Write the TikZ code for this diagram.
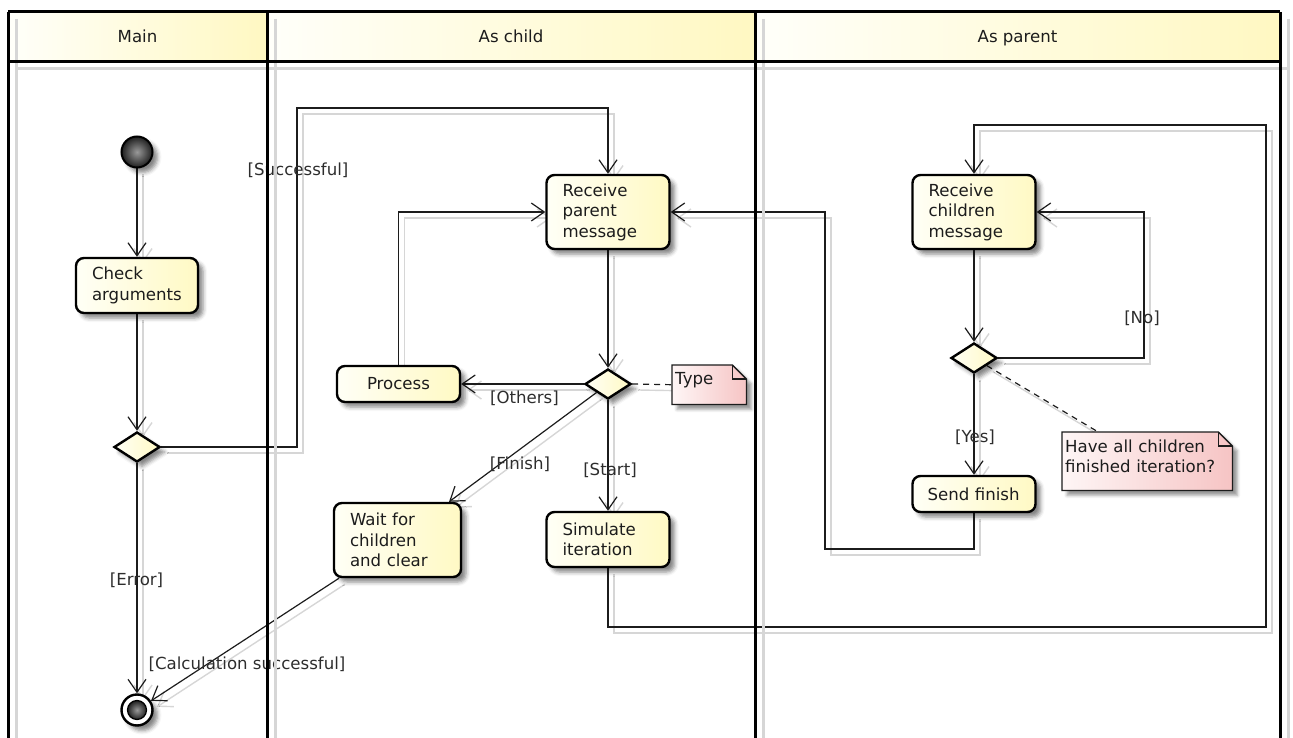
\documentclass[tikz,border=0pt]{standalone}
\usepackage{fontspec}
\setmainfont{DejaVu Sans}
\usetikzlibrary{shapes.geometric, arrows.meta, shadows, shadows.blur, calc}

\pgfdeclarelayer{edges}
\pgfdeclarelayer{lanefg}
\pgfsetlayers{edges,main,lanefg}

\definecolor{actL}{RGB}{255,255,246}
\definecolor{actR}{RGB}{255,249,196}
\definecolor{hdrL}{RGB}{255,255,250}
\definecolor{hdrR}{RGB}{255,248,194}
\definecolor{noteL}{RGB}{254,246,246}
\definecolor{noteR}{RGB}{246,196,196}
\definecolor{shadegray}{RGB}{214,214,214}
\definecolor{ink}{RGB}{28,28,28}
\definecolor{lblink}{RGB}{45,45,45}

\tikzset{
  every node/.style={font=\fontsize{16.6pt}{20.5pt}\selectfont, text=ink},
  nodeshadow/.style={blur shadow={shadow xshift=5pt, shadow yshift=-5pt,
      shadow blur radius=4pt, shadow opacity=48}},
  act/.style={rectangle, rounded corners=8pt, draw=black, line width=2.4pt,
      left color=actL, right color=actR, inner xsep=16pt, inner ysep=0pt,
      align=left, nodeshadow},
  dec/.style={diamond, draw=black, line width=2.4pt, left color=actL,
      right color=actR, minimum width=46pt, minimum height=30pt,
      inner sep=0pt, nodeshadow},
  startnode/.style={circle, draw=black, line width=2pt, minimum size=31pt,
      inner sep=0pt, shading=radial, inner color=black!40,
      outer color=black!88, nodeshadow},
  endnode/.style={circle, draw=black, line width=2.4pt, minimum size=31pt,
      inner sep=0pt, fill=white, nodeshadow},
  endcore/.style={circle, draw=black, line width=1.2pt, minimum size=19pt,
      inner sep=0pt, shading=radial, inner color=black!40,
      outer color=black!88},
  notetxt/.style={rectangle, anchor=north west, inner xsep=3pt,
      inner ysep=4pt, align=left},
  lbl/.style={inner sep=0pt, text=lblink},
  hdr/.style={inner sep=0pt, anchor=base, text=ink},
  conn/.style={draw=ink, line width=1.2pt,
      preaction={draw=shadegray, line width=1.4pt, solid,
        transform canvas={shift={(6pt,-6pt)}}}},
  arr/.style={conn, -{Straight Barb[length=13pt, width=18pt]}},
  dashline/.style={conn, dash pattern=on 6pt off 5pt},
  lane/.style={draw=black, line width=3pt},
  laneshadow/.style={draw=shadegray, line width=3pt}
}

% folded-corner note outline around a text node
\newcommand\foldnote[2]{%
  \shadedraw[left color=noteL, right color=noteR, draw=ink, line width=1.3pt,
    blur shadow={shadow xshift=5pt, shadow yshift=-5pt,
      shadow blur radius=3pt, shadow opacity=40}]
    (#1.north west) -- ($(#1.north east)+(-#2,0)$) -- ($(#1.north east)+(0,#2)$)
    -- (#1.south east) -- (#1.south west) -- cycle;
  \draw[draw=ink, line width=1.3pt]
    ($(#1.north east)+(-#2,0)$) |- ($(#1.north east)+(0,#2)$);
}

\begin{document}
\begin{tikzpicture}[x=1pt, y=-1pt]
\useasboundingbox (0,0) rectangle (1293,738);

% swimlane headers
\shade[left color=hdrL, right color=hdrR] (8,12) rectangle (267,62);
\shade[left color=hdrL, right color=hdrR] (267,12) rectangle (755,62);
\shade[left color=hdrL, right color=hdrR] (755,12) rectangle (1280,62);
\node[hdr] (hMain) at (137.5,43) {Main};
\node[hdr] (hChild) at (511,43) {As child};
\node[hdr] (hParent) at (1017.5,43) {As parent};

% Main lane
\node[startnode] (start) at (137,152) {};
\node[act, text width=90pt, minimum height=55pt] (check) at (137,285.5) {Check\\arguments};
\node[dec] (decM) at (137,447) {};
\node[endnode] (end) at (137,710) {};
\node[endcore] (endc) at (end.center) {};

% As child lane
\node[act, text width=91pt, minimum height=74pt] (recvP) at (608,212) {Receive\\parent\\message};
\node[act, text width=91pt, minimum height=36pt, align=center] (proc) at (398.5,384) {Process};
\node[dec] (decC) at (608,384) {};
\node[act, text width=95pt, minimum height=74pt] (wait) at (397.5,540) {Wait for\\children\\and clear};
\node[act, text width=91pt, minimum height=55pt] (sim) at (608,539.5) {Simulate\\iteration};
\node[notetxt, text width=68pt, text height=15pt, text depth=16pt] (typeN) at (672,365) {Type};

% As parent lane
\node[act, text width=91pt, minimum height=74pt] (recvC) at (974,212) {Receive\\children\\message};
\node[dec] (decP) at (974,358) {};
\node[act, text width=93pt, inner xsep=15pt, minimum height=36pt] (send) at (974,494) {Send finish};
\node[notetxt, text width=164pt, text height=16pt, text depth=34pt] (note2) at (1062,432) {Have all children\\finished iteration?};

% guard labels
\node[lbl] (lSucc) at (298,170) {[Successful]};
\node[lbl] (lErr) at (136.5,580) {[Error]};
\node[lbl] (lCalc) at (247,664) {[Calculation successful]};
\node[lbl] (lOth) at (524.5,398) {[Others]};
\node[lbl] (lFin) at (520,464) {[Finish]};
\node[lbl] (lStart) at (610,470) {[Start]};
\node[lbl] (lNo) at (1142,318) {[No]};
\node[lbl] (lYes) at (975,437) {[Yes]};

% control flow
\begin{pgfonlayer}{edges}
  \coordinate (s1) at (297,108);
  \coordinate (l1) at (1266,627);
  \coordinate (l2) at (1266,125);
  \coordinate (no1) at (1144,212);
  \coordinate (f1) at (825,549);

  \draw[arr] (start) -- (check);
  \draw[arr] (check) -- (decM);
  \draw[arr] (decM.east) -| (s1) -| (recvP.north);
  \draw[arr] (decM) -- (end);
  \draw[arr] (wait) -- (end);

  \draw[arr] (recvP) -- (decC);
  \draw[arr] (decC.west) -- (proc.east);
  \draw[arr] (proc.north) |- (recvP.west);
  \draw[arr] (decC) -- (wait);
  \draw[arr] (decC) -- (sim);
  \draw[arr] (sim.south) |- (l1) -- (l2) -| (recvC.north);

  \draw[arr] (recvC) -- (decP);
  \draw[arr] (decP.east) -| (no1) -- (recvC.east);
  \draw[arr] (decP) -- (send);
  \draw[arr] (send.south) |- (f1) |- (recvP.east);

  \draw[dashline] (decC.east) -- (typeN.west);
  \draw[dashline] (decP) -- (note2);

  \foldnote{typeN}{14}
  \foldnote{note2}{14}
\end{pgfonlayer}

% swimlane borders
\begin{pgfonlayer}{lanefg}
  \draw[laneshadow] (16,19) -- (16,738);
  \draw[laneshadow] (275,19) -- (275,738);
  \draw[laneshadow] (763,19) -- (763,738);
  \draw[laneshadow] (1288,19) -- (1288,738);
  \draw[laneshadow] (16,69) -- (1288,69);
  \draw[lane] (8,12) -- (1280,12);
  \draw[lane] (8,62) -- (1280,62);
  \draw[lane] (8,12) -- (8,738);
  \draw[lane] (267,12) -- (267,738);
  \draw[lane] (755,12) -- (755,738);
  \draw[lane] (1280,12) -- (1280,738);
\end{pgfonlayer}
\end{tikzpicture}
\end{document}
